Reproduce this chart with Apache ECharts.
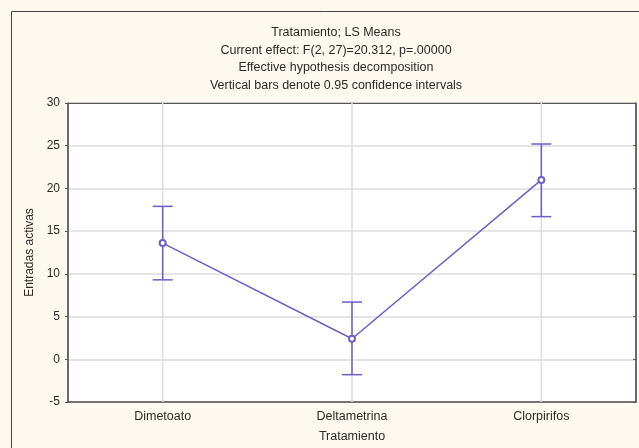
<!DOCTYPE html>
<html>
<head>
<meta charset="utf-8">
<script src="https://cdn.jsdelivr.net/npm/echarts@6/dist/echarts.min.js"></script>
<style>
  html, body { margin: 0; padding: 0; background: #fdf9ee; }
  #chart { width: 639px; height: 448px; }
</style>
</head>
<body>
<div id="chart"></div>
<script>
// Treatment means with 95% confidence limits
const categories = ['Dimetoato', 'Deltametrina', 'Clorpirifos'];
const means = [13.6, 2.4, 21.0];
const lowerCI = [9.3, -1.8, 16.7];
const upperCI = [17.9, 6.7, 25.2];
const titleLines = [
  'Tratamiento; LS Means',
  'Current effect: F(2, 27)=20.312, p=.00000',
  'Effective hypothesis decomposition',
  'Vertical bars denote 0.95 confidence intervals'
];
const yTicks = { min: -5, max: 30, step: 5 };

const lineColor = '#6c5fc6';
const axisColor = '#555555';
const gridColor = '#dcdcdc';
const textColor = '#2a2a2a';
const font = 'Liberation Sans, Arial, sans-serif';

const chart = echarts.init(document.getElementById('chart'));

const ciData = categories.map((c, i) => [i, lowerCI[i], upperCI[i]]);

chart.setOption({
  backgroundColor: '#fdf9ee',
  animation: false,
  title: {
    text: titleLines.join('\n'),
    left: 331,
    textAlign: 'center',
    top: 19,
    textStyle: {
      fontFamily: font,
      fontSize: 12.5,
      fontWeight: 'normal',
      color: textColor,
      lineHeight: 17.6
    }
  },
  graphic: [{
    type: 'rect',
    silent: true,
    z: -1,
    shape: { x: 11.5, y: 11.5, width: 700, height: 500 },
    style: { fill: 'none', stroke: '#444', lineWidth: 1 }
  }],
  grid: {
    left: 68, right: 3, top: 103, bottom: 45,
    show: true,
    backgroundColor: '#ffffff',
    borderColor: axisColor,
    borderWidth: 1
  },
  xAxis: [{
    type: 'category',
    data: categories,
    boundaryGap: true,
    position: 'bottom',
    name: 'Tratamiento',
    nameLocation: 'middle',
    nameGap: 28,
    nameTextStyle: { fontFamily: font, fontSize: 12.5, color: textColor },
    axisLine: { onZero: false, lineStyle: { color: axisColor, width: 1.5 } },
    axisTick: { alignWithLabel: true, inside: true, length: 3, lineStyle: { color: axisColor } },
    axisLabel: { fontFamily: font, fontSize: 12.5, color: textColor, margin: 8 },
    splitLine: { show: false }
  }, {
    type: 'category',
    data: categories,
    boundaryGap: true,
    position: 'top',
    axisLine: { onZero: false, lineStyle: { color: axisColor } },
    axisTick: { alignWithLabel: true, inside: true, length: 3, lineStyle: { color: axisColor } },
    axisLabel: { show: false },
    splitLine: { show: false }
  }],
  yAxis: [{
    type: 'value',
    min: yTicks.min, max: yTicks.max, interval: yTicks.step,
    name: 'Entradas activas',
    nameLocation: 'middle',
    nameGap: 32,
    nameRotate: 90,
    nameTextStyle: { fontFamily: font, fontSize: 12, color: textColor },
    axisLine: { show: true, onZero: false, lineStyle: { color: axisColor, width: 1.5 } },
    axisTick: { show: true, length: 3, lineStyle: { color: axisColor } },
    axisLabel: { fontFamily: font, fontSize: 12, color: textColor, margin: 8 },
    splitLine: { show: true, lineStyle: { color: gridColor, width: 1.5 } }
  }, {
    type: 'value',
    position: 'right',
    min: yTicks.min, max: yTicks.max, interval: yTicks.step,
    axisLine: { show: true, onZero: false, lineStyle: { color: axisColor, width: 1.5 } },
    axisTick: { show: true, inside: true, length: 3, lineStyle: { color: axisColor } },
    axisLabel: { show: false },
    splitLine: { show: false }
  }],
  series: [{
    // vertical grid lines through each category
    type: 'custom',
    z: 1,
    silent: true,
    data: categories.map((c, i) => [i]),
    renderItem: function (params, api) {
      const top = api.coord([api.value(0), yTicks.max]);
      const bottom = api.coord([api.value(0), yTicks.min]);
      return {
        type: 'line',
        shape: { x1: top[0], y1: top[1], x2: bottom[0], y2: bottom[1] },
        style: { stroke: gridColor, lineWidth: 1.5 }
      };
    }
  }, {
    // confidence interval whiskers
    type: 'custom',
    z: 3,
    silent: true,
    data: ciData,
    renderItem: function (params, api) {
      const lo = api.coord([api.value(0), api.value(1)]);
      const hi = api.coord([api.value(0), api.value(2)]);
      const cap = 10;
      const style = { stroke: lineColor, lineWidth: 1.5 };
      return {
        type: 'group',
        children: [
          { type: 'line', shape: { x1: lo[0], y1: lo[1], x2: hi[0], y2: hi[1] }, style: style },
          { type: 'line', shape: { x1: hi[0] - cap, y1: hi[1], x2: hi[0] + cap, y2: hi[1] }, style: style },
          { type: 'line', shape: { x1: lo[0] - cap, y1: lo[1], x2: lo[0] + cap, y2: lo[1] }, style: style }
        ]
      };
    }
  }, {
    type: 'line',
    z: 4,
    data: means,
    symbol: 'emptyCircle',
    symbolSize: 6,
    lineStyle: { color: lineColor, width: 1.5 },
    itemStyle: { color: lineColor, borderWidth: 1.5 }
  }]
});
</script>
</body>
</html>
